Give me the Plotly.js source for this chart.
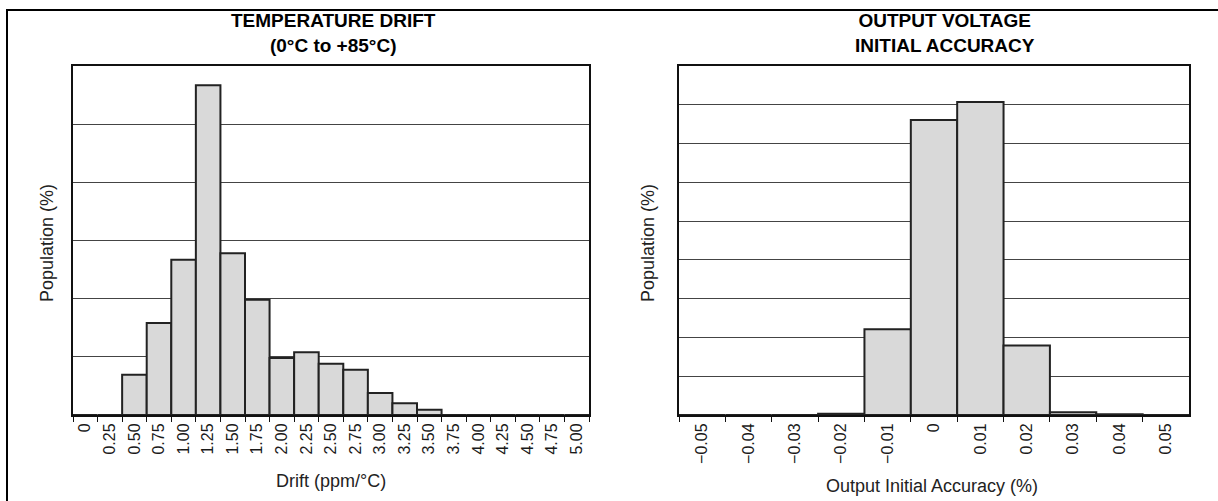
<!DOCTYPE html>
<html>
<head>
<meta charset="utf-8">
<script src="https://cdn.plot.ly/plotly-3.0.1.min.js"></script>
<style>html,body{margin:0;padding:0;background:#fff;}#chart{width:1218px;height:501px;}</style>
</head>
<body>
<div id="chart"></div>
<script>
// Left chart: temperature drift histogram (bins labelled by value)
const driftBins = ["0","0.25","0.50","0.75","1.00","1.25","1.50","1.75","2.00","2.25","2.50","2.75","3.00","3.25","3.50","3.75","4.00","4.25","4.50","4.75","5.00"];
const driftPopulation = [0,0,0.69,1.58,2.67,5.67,2.78,1.98,0.98,1.08,0.88,0.78,0.38,0.20,0.09,0,0,0,0,0,0];

// Right chart: output voltage initial accuracy histogram
const accuracyBins = ["\u22120.05","\u22120.04","\u22120.03","\u22120.02","\u22120.01","0","0.01","0.02","0.03","0.04","0.05"];
const accuracyPopulation = [0,0,0,0.03,2.21,7.61,8.07,1.79,0.07,0.02,0];

const leftTitle = "TEMPERATURE DRIFT<br>(0°C to +85°C)";
const rightTitle = "OUTPUT VOLTAGE<br>INITIAL ACCURACY";
const leftXTitle = "Drift (ppm/°C)";
const rightXTitle = "Output Initial Accuracy (%)";
const yTitle = "Population (%)";

const W = 1218, H = 501;
const FONT = "Liberation Sans, Arial, sans-serif";
const barStyle = {color: "#d9d9d9", line: {color: "#222", width: 2}};

const traces = [
  {type: "bar", x: driftBins, y: driftPopulation, xaxis: "x", yaxis: "y",
   marker: barStyle, hoverinfo: "x+y"},
  {type: "bar", x: accuracyBins, y: accuracyPopulation, xaxis: "x2", yaxis: "y2",
   marker: barStyle, hoverinfo: "x+y"}
];

function boundaries(n){ const b=[]; for(let i=0;i<=n;i++) b.push(i-0.5); return b; }

const px = v => v / W;
const py = v => 1 - v / H;

const yDom = [py(415), py(66)];
const frame = {showline: true, mirror: true, linecolor: "#111", linewidth: 2};
const xTickFont = {family: FONT, size: 16, color: "#1a1a1a"};
const titleFont = {family: FONT, size: 19, color: "#000"};
const axTitleFont = {family: FONT, size: 18, color: "#222"};

const layout = {
  width: W, height: H,
  margin: {l: 0, r: 0, t: 0, b: 0},
  paper_bgcolor: "#fff", plot_bgcolor: "#fff",
  showlegend: false, bargap: 0,
  font: {family: FONT, color: "#222"},
  xaxis: Object.assign({domain: [px(73), px(589)], anchor: "y", type: "category",
    categoryorder: "array", categoryarray: driftBins,
    range: [-0.5, driftBins.length - 0.5], tickson: "boundaries",
    ticks: "outside", ticklen: 5, tickwidth: 1, tickcolor: "#111",
    tickangle: -90, tickfont: xTickFont, showgrid: false, fixedrange: true}, frame),
  yaxis: Object.assign({domain: yDom, anchor: "x", range: [0, 6], dtick: 1, tick0: 0,
    showticklabels: false, ticks: "", showgrid: true, gridcolor: "#444", gridwidth: 1,
    zeroline: false}, frame),
  xaxis3: {overlaying: "x", anchor: "y", range: [-0.5, driftBins.length - 0.5],
    tickmode: "array", tickvals: boundaries(driftBins.length), ticks: "inside", ticklen: 4,
    tickwidth: 1, tickcolor: "#111", showticklabels: false, showgrid: false, zeroline: false,
    showline: false},
  xaxis2: Object.assign({domain: [px(679), px(1189)], anchor: "y2", type: "category",
    categoryorder: "array", categoryarray: accuracyBins,
    range: [-0.5, accuracyBins.length - 0.5], tickson: "boundaries",
    ticks: "outside", ticklen: 5, tickwidth: 1, tickcolor: "#111",
    tickangle: -90, tickfont: xTickFont, showgrid: false, fixedrange: true}, frame),
  yaxis2: Object.assign({domain: yDom, anchor: "x2", range: [0, 9], dtick: 1, tick0: 0,
    showticklabels: false, ticks: "", showgrid: true, gridcolor: "#444", gridwidth: 1,
    zeroline: false}, frame),
  xaxis4: {overlaying: "x2", anchor: "y2", range: [-0.5, accuracyBins.length - 0.5],
    tickmode: "array", tickvals: boundaries(accuracyBins.length), ticks: "inside", ticklen: 4,
    tickwidth: 1, tickcolor: "#111", showticklabels: false, showgrid: false, zeroline: false,
    showline: false},
  annotations: [
    {text: "<b>" + leftTitle.replace("<br>", "</b><br><b>") + "</b>", xref: "paper", yref: "paper",
     x: px(333), y: py(8), xanchor: "center", yanchor: "top", showarrow: false, font: titleFont},
    {text: "<b>" + rightTitle.replace("<br>", "</b><br><b>") + "</b>", xref: "paper", yref: "paper",
     x: px(945), y: py(8), xanchor: "center", yanchor: "top", showarrow: false, font: titleFont},
    {text: leftXTitle, xref: "paper", yref: "paper", x: px(331), y: py(481),
     xanchor: "center", yanchor: "middle", showarrow: false, font: axTitleFont},
    {text: rightXTitle, xref: "paper", yref: "paper", x: px(932), y: py(486),
     xanchor: "center", yanchor: "middle", showarrow: false, font: axTitleFont},
    {text: yTitle, xref: "paper", yref: "paper", x: px(47), y: py(243), textangle: -90,
     xanchor: "center", yanchor: "middle", showarrow: false, font: axTitleFont},
    {text: yTitle, xref: "paper", yref: "paper", x: px(648), y: py(243), textangle: -90,
     xanchor: "center", yanchor: "middle", showarrow: false, font: axTitleFont}
  ],
  shapes: [
    {type: "line", xref: "paper", yref: "paper", x0: px(6), x1: 1, y0: py(10), y1: py(10),
     line: {color: "#000", width: 2}},
    {type: "line", xref: "paper", yref: "paper", x0: px(7), x1: px(7), y0: py(10), y1: 0,
     line: {color: "#000", width: 2}}
  ]
};

Plotly.newPlot("chart", traces, layout, {displayModeBar: false, staticPlot: true});
</script>
</body>
</html>
